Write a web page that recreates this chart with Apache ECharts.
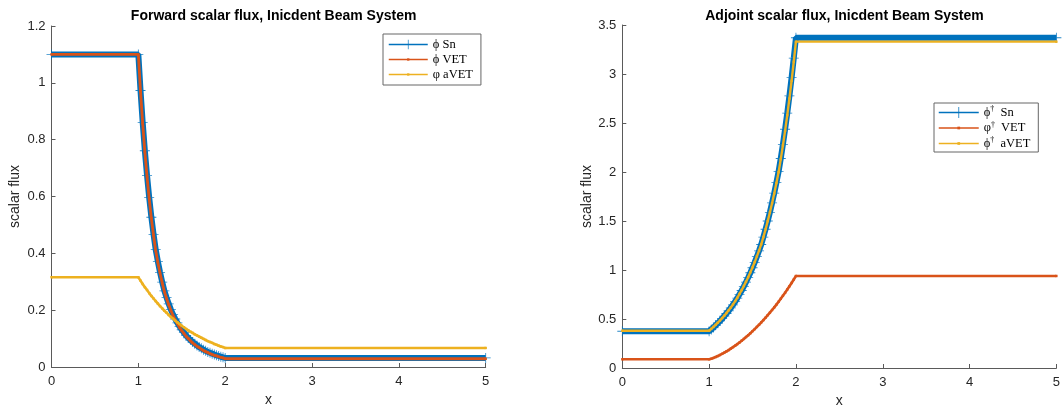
<!DOCTYPE html>
<html>
<head>
<meta charset="utf-8">
<script src="https://cdn.jsdelivr.net/npm/echarts@6/dist/echarts.min.js"></script>
<style>
html,body{margin:0;padding:0;background:#fff;}
#chart{width:1063px;height:413px;}
</style>
</head>
<body>
<div id="chart"></div>
<script>
// x positions (shared by all series)
const xs = [0, 1, 1.025, 1.05, 1.075, 1.1, 1.125, 1.15, 1.175, 1.2, 1.225, 1.25, 1.275, 1.3, 1.325, 1.35, 1.375, 1.4, 1.425, 1.45, 1.475, 1.5, 1.525, 1.55, 1.575, 1.6, 1.625, 1.65, 1.675, 1.7, 1.725, 1.75, 1.775, 1.8, 1.825, 1.85, 1.875, 1.9, 1.925, 1.95, 1.975, 2, 5];

// Forward scalar flux
const fwdSn = [1.10, 1.10, 0.973, 0.861, 0.761, 0.674, 0.596, 0.527, 0.467, 0.413, 0.371, 0.333, 0.299, 0.268, 0.244, 0.222, 0.202, 0.184, 0.169, 0.155, 0.142, 0.131, 0.121, 0.111, 0.103, 0.095, 0.088, 0.082, 0.076, 0.070, 0.066, 0.061, 0.057, 0.053, 0.050, 0.047, 0.044, 0.041, 0.039, 0.036, 0.034, 0.032, 0.032];
const fwdVET = [1.10, 1.10, 0.970, 0.857, 0.757, 0.670, 0.592, 0.523, 0.463, 0.410, 0.368, 0.330, 0.296, 0.265, 0.241, 0.219, 0.199, 0.181, 0.166, 0.152, 0.139, 0.128, 0.118, 0.108, 0.100, 0.092, 0.085, 0.079, 0.073, 0.068, 0.063, 0.058, 0.054, 0.051, 0.047, 0.044, 0.041, 0.039, 0.036, 0.034, 0.032, 0.029, 0.029];
const fwdAVET = [0.316, 0.316, 0.304, 0.292, 0.281, 0.271, 0.260, 0.250, 0.241, 0.232, 0.223, 0.214, 0.206, 0.198, 0.191, 0.183, 0.176, 0.170, 0.163, 0.157, 0.151, 0.145, 0.140, 0.134, 0.129, 0.124, 0.120, 0.115, 0.111, 0.107, 0.103, 0.099, 0.095, 0.091, 0.088, 0.085, 0.081, 0.078, 0.075, 0.072, 0.070, 0.067, 0.067];

// Adjoint scalar flux
const adjSn = [0.375, 0.375, 0.394, 0.414, 0.435, 0.457, 0.480, 0.504, 0.530, 0.556, 0.584, 0.614, 0.645, 0.678, 0.713, 0.752, 0.791, 0.833, 0.877, 0.923, 0.972, 1.023, 1.078, 1.136, 1.196, 1.260, 1.336, 1.416, 1.500, 1.589, 1.684, 1.784, 1.891, 2.003, 2.138, 2.282, 2.436, 2.600, 2.776, 2.963, 3.162, 3.370, 3.370];
const adjVET = [0.089, 0.089, 0.095, 0.103, 0.112, 0.122, 0.133, 0.145, 0.157, 0.170, 0.183, 0.198, 0.213, 0.228, 0.244, 0.261, 0.279, 0.297, 0.316, 0.335, 0.355, 0.376, 0.397, 0.419, 0.441, 0.465, 0.489, 0.513, 0.539, 0.565, 0.592, 0.619, 0.647, 0.676, 0.706, 0.737, 0.768, 0.801, 0.834, 0.868, 0.903, 0.939, 0.939];
const adjAVET = [0.380, 0.380, 0.399, 0.419, 0.440, 0.462, 0.485, 0.509, 0.534, 0.561, 0.589, 0.618, 0.649, 0.682, 0.717, 0.756, 0.795, 0.837, 0.881, 0.927, 0.976, 1.027, 1.081, 1.139, 1.198, 1.261, 1.336, 1.415, 1.499, 1.587, 1.682, 1.781, 1.887, 1.998, 2.129, 2.270, 2.420, 2.580, 2.750, 2.930, 3.125, 3.330, 3.330];

const titles = ['Forward scalar flux, Inicdent Beam System', 'Adjoint scalar flux, Inicdent Beam System'];
const fwdNames = ['\u03D5 Sn', '\u03D5 VET', '\u03C6 aVET'];
const adjNames = ['\u03D5\u2020 Sn', '\u03C6\u2020 VET', '\u03D5\u2020 aVET'];
const xTicks = { min: 0, max: 5, interval: 1 };
const yFwd = { min: 0, max: 1.2, interval: 0.2 };
const yAdj = { min: 0, max: 3.5, interval: 0.5 };

const BLUE = '#0072BD', ORANGE = '#D95319', YELLOW = '#EDB120';
const PLUS = 'path://M4.6,0h0.8v4.6h4.6v0.8h-4.6v4.6h-0.8v-4.6h-4.6v-0.8h4.6z';
// small dot inside a larger invisible box (zero-length segments fix the box)
const DOT = 'path://M0,0L0,0M10,10L10,10M3.8,3.8h2.4v2.4h-2.4z';
const AXC = '#262626';
const SANS = '"Liberation Sans", Arial, Helvetica, sans-serif';
const SERIF = '"Liberation Serif", "DejaVu Serif", serif';

function pts(v) { return xs.map((x, i) => [x, v[i]]); }

function xAxis(gi) {
  return {
    gridIndex: gi, type: 'value', min: xTicks.min, max: xTicks.max, interval: xTicks.interval,
    name: 'x', nameLocation: 'middle', nameGap: 25,
    nameTextStyle: { color: AXC, fontSize: 14, fontFamily: SANS },
    axisLine: { show: true, onZero: false, lineStyle: { color: '#5a5a5a', width: 1 } },
    axisTick: { show: true, inside: true, length: 4, lineStyle: { color: '#5a5a5a' } },
    axisLabel: { color: AXC, fontSize: 13, fontFamily: SANS, margin: 8 },
    splitLine: { show: false }
  };
}
function yAxis(gi, cfg, gap) {
  return {
    gridIndex: gi, type: 'value', min: cfg.min, max: cfg.max, interval: cfg.interval,
    name: 'scalar flux', nameLocation: 'middle', nameGap: gap,
    nameTextStyle: { color: AXC, fontSize: 14, fontFamily: SANS },
    axisLine: { show: true, onZero: false, lineStyle: { color: '#5a5a5a', width: 1 } },
    axisTick: { show: true, inside: true, length: 4, lineStyle: { color: '#5a5a5a' } },
    axisLabel: { color: AXC, fontSize: 13, fontFamily: SANS, margin: 6 },
    splitLine: { show: false }
  };
}
function snSeries(name, gi, data) {
  return {
    name: name, type: 'line', xAxisIndex: gi, yAxisIndex: gi, data: pts(data), z: 2,
    symbol: PLUS, symbolSize: 10, showSymbol: true, showAllSymbol: true,
    itemStyle: { color: BLUE, opacity: 0.85 },
    lineStyle: { color: BLUE, width: 6 }, emphasis: { disabled: true }
  };
}
function thinSeries(name, gi, data, color, z, w) {
  return {
    name: name, type: 'line', xAxisIndex: gi, yAxisIndex: gi, data: pts(data), z: z,
    symbol: DOT, symbolSize: 10, showSymbol: true, showAllSymbol: true,
    itemStyle: { color: color },
    lineStyle: { color: color, width: w }, emphasis: { disabled: true }
  };
}

const chart = echarts.init(document.getElementById('chart'), null, { renderer: 'canvas' });
chart.setOption({
  animation: false,
  backgroundColor: '#ffffff',
  title: [
    { text: titles[0], left: 268.6, top: 4, textAlign: 'center',
      textStyle: { fontSize: 14, fontWeight: 'bold', color: '#000', fontFamily: SANS } },
    { text: titles[1], left: 839.5, top: 4, textAlign: 'center',
      textStyle: { fontSize: 14, fontWeight: 'bold', color: '#000', fontFamily: SANS } }
  ],
  grid: [
    { left: 51.5, top: 26, width: 434.2, height: 341 },
    { left: 622.3, top: 25, width: 434.7, height: 343 }
  ],
  legend: [
    { data: fwdNames, orient: 'vertical', left: 383, top: 34, padding: [4, 8, 4, 5],
      itemWidth: 39, itemHeight: 12, itemGap: 2, itemTextGap: 4,
      backgroundColor: '#fff', borderColor: '#666', borderWidth: 1, borderRadius: 0,
      lineStyle: { width: 1.5 },
      textStyle: { fontFamily: SERIF, fontSize: 12.5, color: '#000' } },
    { data: adjNames, orient: 'vertical', left: 934, top: 103, padding: [2, 8, 2, 4],
      itemWidth: 40, itemHeight: 14, itemGap: 1.5, itemTextGap: 4,
      backgroundColor: '#fff', borderColor: '#666', borderWidth: 1, borderRadius: 0,
      lineStyle: { width: 1.5 },
      formatter: function (n) {
        const sym = n.charAt(0), rest = n.slice(2);
        return '{p|' + sym + '}{d|\u2020}{t|' + rest + '}';
      },
      textStyle: { fontFamily: SERIF, fontSize: 12.5, color: '#000',
        rich: {
          p: { fontFamily: SERIF, fontSize: 12.5, color: '#000' },
          d: { fontFamily: SERIF, fontSize: 8, color: '#000', padding: [0, 3, 7, 0] },
          t: { fontFamily: SERIF, fontSize: 12.5, color: '#000' }
        } } }
  ],
  xAxis: [xAxis(0), xAxis(1)],
  yAxis: [yAxis(0, yFwd, 29), yAxis(1, yAdj, 23)],
  series: [
    snSeries(fwdNames[0], 0, fwdSn),
    thinSeries(fwdNames[1], 0, fwdVET, ORANGE, 3, 2.8),
    thinSeries(fwdNames[2], 0, fwdAVET, YELLOW, 4, 2.6),
    snSeries(adjNames[0], 1, adjSn),
    thinSeries(adjNames[1], 1, adjVET, ORANGE, 3, 2.6),
    thinSeries(adjNames[2], 1, adjAVET, YELLOW, 4, 2.4)
  ]
});
</script>
</body>
</html>
